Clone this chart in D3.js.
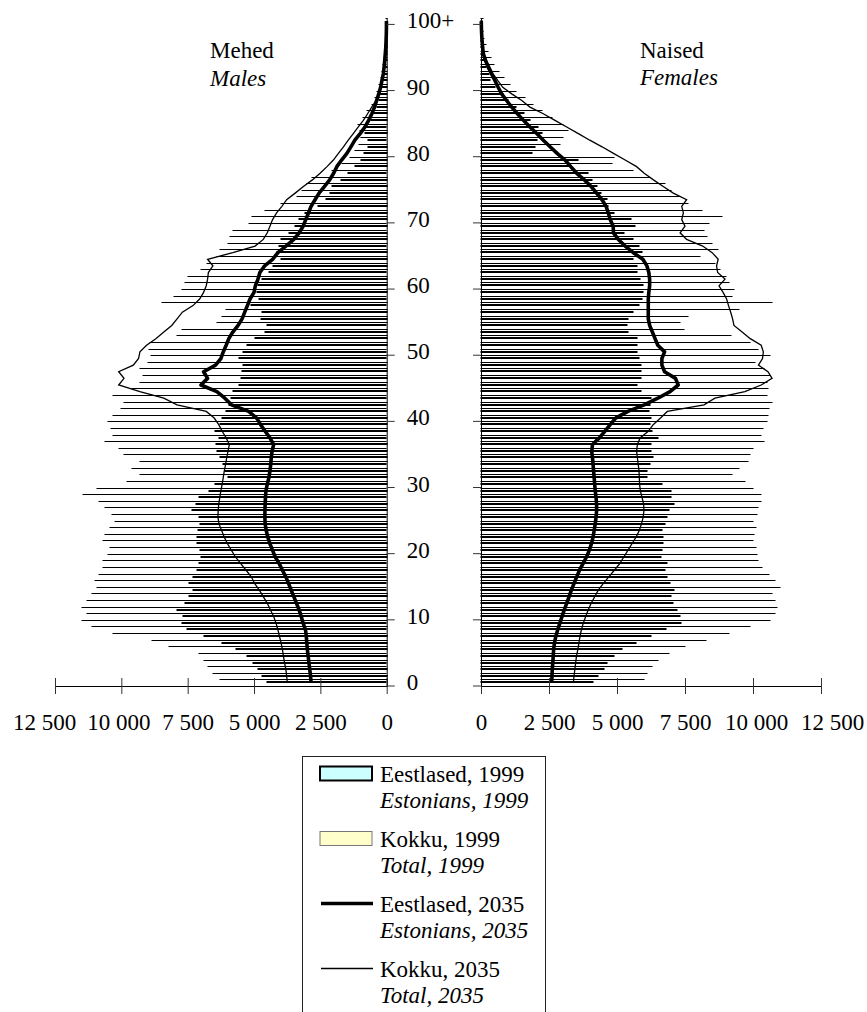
<!DOCTYPE html>
<html>
<head>
<meta charset="utf-8">
<script src="https://cdn.jsdelivr.net/npm/d3@7"></script>
<style>
body { margin: 0; background: #fff; }
</style>
</head>
<body>
<script>
const WIDTH = 867;
const HEIGHT = 1012;
const FONT = 'Liberation Serif';

// age groups 0 .. 100+
const ages = d3.range(0, 101);
const ageTicks = [0, 10, 20, 30, 40, 50, 60, 70, 80, 90, 100];
const ageLabels = ['0', '10', '20', '30', '40', '50', '60', '70', '80', '90', '100+'];
const popTicks = [0, 2500, 5000, 7500, 10000, 12500];
const popLabels = ['0', '2 500', '5 000', '7 500', '10 000', '12 500'];

// males, 1999 (bars)
const maleTotal1999 = [
  6300, 6535, 6723, 6900, 7062, 8200, 8856, 10300, 11100, 11494,
  11300, 11500, 11300, 11117, 10900, 11000, 10830, 10700, 10680, 10500,
  10427, 10680, 10600, 10427, 10240, 10365, 10600, 10830, 11433, 10900,
  9800, 9300, 9610, 9300, 9900, 10077, 10604, 10300, 10400, 10491,
  10303, 10000, 9900, 10303, 9600, 9300, 9200, 9297, 9007, 8900,
  8950, 8920, 7900, 7726, 6400, 6200, 6068, 8480, 8000, 7726,
  7600, 7500, 7000, 6785, 6400, 6300, 5993, 5900, 5780, 5177,
  5088, 4600, 4000, 3392, 3200, 2990, 2827, 2073, 1700, 1400,
  1200, 1050, 950, 1000, 1100, 900, 755, 550, 450, 377,
  300, 220, 170, 130, 95, 70, 45, 30, 20, 12, 20];
const maleEst1999 = [
  4500, 4711, 4850, 5027, 5276, 5690, 6200, 6900, 7514, 7700,
  7688, 7890, 7600, 7450, 7288, 7439, 7288, 7162, 7062, 6998,
  7050, 7162, 7162, 7100, 7050, 7062, 7350, 7200, 7062, 6700,
  6470, 5993, 6100, 6157, 6300, 6407, 6450, 6308, 6470, 6300,
  6200, 6050, 5932, 5850, 5803, 5555, 5500, 5450, 5404, 5555,
  5404, 5276, 4963, 4585, 4500, 4737, 4700, 5100, 4800, 4900,
  4850, 4700, 4423, 4300, 3983, 4145, 4050, 3983, 3700, 3455,
  3300, 3079, 2600, 2300, 2150, 2073, 1722, 1450, 1195, 968,
  850, 700, 692, 818, 840, 600, 480, 380, 300, 250,
  190, 140, 110, 80, 60, 45, 30, 20, 12, 8, 12];
// males, 2035 (lines)
const maleEst2035 = [
  2850, 2870, 2900, 2930, 2960, 2990, 3010, 3030, 3060, 3150,
  3220, 3300, 3400, 3500, 3600, 3700, 3800, 3930, 4050, 4200,
  4300, 4400, 4480, 4540, 4580, 4590, 4590, 4580, 4570, 4550,
  4500, 4440, 4400, 4370, 4350, 4320, 4260, 4400, 4580, 4750,
  4900, 5200, 5850, 6100, 6400, 7000, 6750, 6900, 6450, 6250,
  6160, 6050, 5950, 5800, 5600, 5450, 5350, 5250, 5150, 5000,
  4950, 4850, 4780, 4600, 4300, 4100, 3800, 3500, 3300, 3150,
  3050, 2950, 2850, 2700, 2550, 2350, 2150, 2000, 1880, 1700,
  1500, 1350, 1200, 1000, 820, 680, 560, 460, 380, 300,
  230, 180, 130, 100, 75, 55, 35, 25, 15, 10, 10];
const maleTotal2035 = [
  3745, 3770, 3800, 3850, 3890, 3930, 3980, 4040, 4100, 4170,
  4260, 4380, 4500, 4650, 4800, 4980, 5100, 5300, 5500, 5700,
  5850, 6000, 6120, 6220, 6320, 6360, 6350, 6330, 6290, 6250,
  6200, 6160, 6120, 6070, 6030, 5980, 5930, 6050, 6200, 6330,
  6500, 6800, 7900, 8400, 9300, 10100, 9900, 10100, 9550, 9350,
  9300, 9050, 8700, 8400, 8100, 7900, 7700, 7300, 7050, 6900,
  6800, 6750, 6720, 6550, 6750, 5800, 4960, 4650, 4500, 4400,
  4300, 4150, 3950, 3770, 3450, 3140, 2800, 2510, 2250, 2010,
  1820, 1630, 1450, 1260, 1070, 880, 720, 565, 400, 300,
  230, 170, 125, 90, 65, 45, 30, 20, 12, 10, 8];

// females, 1999 (bars)
const femaleTotal1999 = [
  6000, 6100, 6299, 6500, 6900, 7500, 8272, 9100, 9890, 10625,
  10800, 10900, 10800, 10686, 10993, 10800, 10600, 10343, 10200, 10150,
  10098, 10012, 10050, 10100, 10012, 10150, 10200, 10282, 10282, 10000,
  9700, 9240, 9500, 9800, 9900, 10012, 10404, 10300, 10350, 10500,
  10550, 10600, 10686, 10500, 10550, 10500, 10625, 10400, 10074, 10625,
  10196, 9900, 9200, 7463, 7300, 7600, 9500, 10686, 9216, 9300,
  9100, 9000, 8800, 8600, 8051, 8700, 8500, 8300, 8200, 8400,
  8848, 8113, 7600, 7300, 7000, 6765, 6200, 5600, 4800, 4900,
  2700, 2900, 3000, 3200, 3000, 2600, 2230, 1900, 1600, 1300,
  1050, 850, 650, 480, 350, 250, 170, 110, 70, 40, 60];
const femaleEst1999 = [
  4105, 4314, 4534, 4620, 4900, 5196, 5700, 6238, 6800, 7341,
  7300, 7194, 7047, 7000, 7108, 6950, 6826, 6750, 6826, 6606,
  6650, 6700, 6700, 6667, 6750, 6826, 6900, 7108, 7000, 6973,
  6667, 6100, 6091, 6200, 6311, 6250, 6238, 6520, 6300, 6200,
  6238, 6176, 6200, 6238, 5900, 5723, 5870, 5870, 5870, 5800,
  5750, 5723, 5723, 5400, 5355, 5417, 5600, 5800, 5907, 5968,
  5968, 5850, 5750, 5723, 5576, 5931, 5800, 5576, 5270, 5662,
  5500, 4902, 4681, 4620, 4400, 4250, 4069, 3946, 3300, 3554,
  1863, 2000, 2047, 2255, 2100, 1800, 1593, 1287, 1000, 800,
  515, 331, 280, 200, 147, 100, 70, 45, 30, 20, 35];
// females, 2035 (lines)
const femaleEst2035 = [
  2600, 2610, 2620, 2640, 2655, 2670, 2700, 2750, 2820, 2900,
  2980, 3060, 3150, 3240, 3320, 3420, 3520, 3620, 3750, 3880,
  3980, 4060, 4120, 4160, 4200, 4230, 4250, 4250, 4230, 4200,
  4180, 4160, 4140, 4120, 4100, 4070, 4100, 4350, 4550, 4750,
  4950, 5400, 6000, 6500, 6950, 7250, 7150, 6750, 6650, 6650,
  6750, 6500, 6400, 6300, 6200, 6150, 6150, 6150, 6150, 6170,
  6200, 6200, 6170, 6100, 5950, 5600, 5300, 5050, 4870, 4860,
  4750, 4680, 4600, 4450, 4250, 4050, 3800, 3520, 3300, 3090,
  2800, 2540, 2290, 2050, 1800, 1560, 1340, 1130, 940, 760,
  630, 515, 390, 270, 170, 90, 60, 40, 25, 15, 10];
const femaleTotal2035 = [
  3395, 3420, 3450, 3480, 3510, 3560, 3600, 3640, 3690, 3760,
  3850, 3940, 4050, 4180, 4310, 4500, 4700, 4900, 5100, 5250,
  5400, 5550, 5700, 5820, 5900, 5960, 5990, 5980, 5920, 5860,
  5830, 5820, 5810, 5780, 5750, 5720, 5750, 5850, 6150, 6330,
  6600, 6850, 8200, 8600, 9700, 10300, 10700, 10550, 10200, 10350,
  10380, 10300, 9900, 9600, 9300, 9250, 9180, 9100, 9030, 8900,
  8750, 8970, 8700, 8660, 8720, 8500, 8150, 7560, 7320, 7500,
  7380, 7440, 7380, 7560, 7070, 6700, 6340, 6000, 5720, 5300,
  4870, 4450, 4000, 3580, 3150, 2720, 2290, 1800, 1500, 1130,
  800, 620, 450, 330, 200, 100, 70, 45, 30, 20, 15];

const legendItems = [
  { et: 'Eestlased, 1999', en: 'Estonians, 1999', kind: 'estBar' },
  { et: 'Kokku, 1999', en: 'Total, 1999', kind: 'totBar' },
  { et: 'Eestlased, 2035', en: 'Estonians, 2035', kind: 'estLine' },
  { et: 'Kokku, 2035', en: 'Total, 2035', kind: 'totLine' }
];

const EST_FILL = '#ccffff';
const TOT_FILL = '#ffffcc';
// outer labels sit a little further out than their ticks
const labelShift = [0, 0, 0, 0, 3, 11];

const svg = d3.select('body').append('svg')
    .attr('width', WIDTH)
    .attr('height', HEIGHT)
    .attr('font-family', FONT)
    .attr('font-size', 23);

svg.append('rect').attr('width', WIDTH).attr('height', HEIGHT).attr('fill', '#fff');

var y = d3.scaleBand()
    .domain(ages)
    .range([686, 17.8]);
var bw = y.bandwidth();

var xM = d3.scaleLinear().domain([0, 12500]).range([386.7, 55]);
var xF = d3.scaleLinear().domain([0, 12500]).range([481, 821]);

var styleText = function (sel) {
    sel.attr('font-family', FONT).attr('font-size', 23).attr('fill', '#000');
};

// one half of the pyramid
var drawSide = function (x, total99, est99, est35, tot35, left) {
    var g = svg.append('g');
    var barX = function (v) { return left ? x(v) : x(0); };
    var barW = function (v) { return Math.abs(x(v) - x(0)); };

    // total 1999: shows as a hairline bar
    g.selectAll('rect.tot')
        .data(total99)
        .enter()
        .append('rect')
        .attr('x', function (d) { return Math.round(barX(d)); })
        .attr('y', function (d, i) { return Math.round(y(i)) + 0.5; })
        .attr('width', function (d) { return Math.round(barW(d)); })
        .attr('height', 0.01)
        .attr('fill', TOT_FILL)
        .attr('stroke', '#000')
        .attr('stroke-width', 1);

    // estonians 1999: short heavy bar
    g.selectAll('rect.est')
        .data(est99)
        .enter()
        .append('rect')
        .attr('x', function (d) { return Math.round(barX(d)); })
        .attr('y', function (d, i) { return Math.round(y(i)) + 2.5; })
        .attr('width', function (d) { return Math.round(barW(d)); })
        .attr('height', 1)
        .attr('fill', EST_FILL)
        .attr('stroke', '#000')
        .attr('stroke-width', 1);

    var line = d3.line()
        .x(function (d) { return x(d); })
        .y(function (d, i) { return y(i) + bw / 2; });

    g.append('path')
        .attr('d', line(tot35))
        .attr('fill', 'none')
        .attr('stroke', '#000')
        .attr('stroke-width', 1.3);

    g.append('path')
        .attr('d', line(est35))
        .attr('fill', 'none')
        .attr('stroke', '#000')
        .attr('stroke-width', 3.6)
        .attr('stroke-linejoin', 'round');

    // population axis with crossing ticks
    var xAxis = d3.axisBottom(x)
        .tickValues(popTicks)
        .tickFormat(function (d, i) { return popLabels[i]; })
        .tickSize(8)
        .tickSizeOuter(0)
        .tickPadding(20);
    var ax = svg.append('g')
        .attr('transform', 'translate(0,686)')
        .call(xAxis);
    ax.attr('font-family', FONT).attr('font-size', 23);
    ax.selectAll('.tick line').attr('y1', -8).attr('y2', 8).attr('stroke', '#333');
    ax.select('.domain').attr('stroke', '#000');
    ax.selectAll('text')
        .call(styleText)
        .attr('dx', function (d, i) { return (left ? -1 : 1) * labelShift[i]; });

    // age axis
    var ageX = left ? 386.7 : 481;
    var yAxis = (left ? d3.axisRight(y) : d3.axisLeft(y))
        .tickValues(left ? ageTicks : [])
        .tickFormat(function (d) { return ageLabels[ageTicks.indexOf(d)]; })
        .tickSize(0)
        .tickSizeOuter(0)
        .tickPadding(20);
    var ay = svg.append('g')
        .attr('transform', 'translate(' + ageX + ',0)')
        .call(yAxis);
    ay.attr('font-family', FONT).attr('font-size', 23);
    ay.select('.domain').attr('stroke', '#000');
    ay.selectAll('text').call(styleText);
    ay.selectAll('line.ageTick')
        .data(ageTicks)
        .enter()
        .append('line')
        .attr('x1', 0)
        .attr('x2', left ? 8 : -8)
        .attr('y1', function (d) { return y(d) + bw; })
        .attr('y2', function (d) { return y(d) + bw; })
        .attr('stroke', '#333');
};

drawSide(xM, maleTotal1999, maleEst1999, maleEst2035, maleTotal2035, true);
drawSide(xF, femaleTotal1999, femaleEst1999, femaleEst2035, femaleTotal2035, false);

// titles
svg.append('text').attr('x', 210).attr('y', 58).text('Mehed').call(styleText);
svg.append('text').attr('x', 210).attr('y', 86).attr('font-style', 'italic').text('Males').call(styleText);
svg.append('text').attr('x', 640).attr('y', 58).text('Naised').call(styleText);
svg.append('text').attr('x', 640).attr('y', 85).attr('font-style', 'italic').text('Females').call(styleText);

// legend
var lg = svg.append('g');
lg.append('rect')
    .attr('x', 302.5).attr('y', 756.5)
    .attr('width', 243).attr('height', 270)
    .attr('fill', '#fff')
    .attr('stroke', '#222')
    .attr('stroke-width', 1);

var items = lg.selectAll('g.item')
    .data(legendItems)
    .enter()
    .append('g')
    .attr('transform', function (d, i) { return 'translate(0,' + (773.5 + i * 65) + ')'; });

items.each(function (d) {
    var it = d3.select(this);
    if (d.kind === 'estBar') {
        it.append('rect').attr('x', 320).attr('y', -7).attr('width', 52).attr('height', 14)
            .attr('fill', EST_FILL).attr('stroke', '#000').attr('stroke-width', 2);
    } else if (d.kind === 'totBar') {
        it.append('rect').attr('x', 320).attr('y', -7).attr('width', 52).attr('height', 14)
            .attr('fill', TOT_FILL).attr('stroke', '#777').attr('stroke-width', 1);
    } else {
        it.append('line').attr('x1', 321).attr('x2', 373).attr('y1', 0).attr('y2', 0)
            .attr('stroke', '#000').attr('stroke-width', d.kind === 'estLine' ? 3.5 : 1.3);
    }
    it.append('text').attr('x', 380).attr('y', 8).text(d.et).call(styleText);
    it.append('text').attr('x', 380).attr('y', 34).attr('font-style', 'italic').text(d.en).call(styleText);
});
</script>
</body>
</html>
